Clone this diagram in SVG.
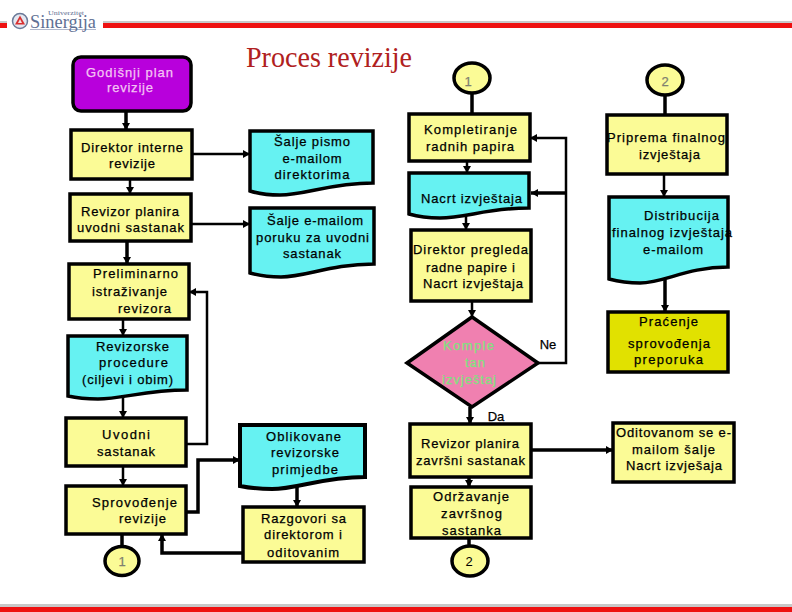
<svg xmlns="http://www.w3.org/2000/svg" width="792" height="612" viewBox="0 0 792 612">
<style>
.y{fill:#fbfb96;stroke:#000;stroke-width:3.5}
.c{fill:#66f2f2;stroke:#000;stroke-width:3.5}
.t{font-family:"Liberation Sans",Arial,sans-serif;font-size:13px;fill:#000;text-anchor:middle;stroke:#000;stroke-width:.25}
.l{fill:none;stroke:#000;stroke-width:2.5}
.k{fill:none;stroke:#000;stroke-width:3.5}
</style>
<defs>
<marker id="a" markerUnits="userSpaceOnUse" markerWidth="8" markerHeight="8" refX="7" refY="4" orient="auto"><path d="M0 0L7 4L0 8Z" fill="#000"/></marker>
</defs>
<rect width="792" height="612" fill="#fff"/>
<g id="frame">
<rect x="0" y="21" width="7" height="2" fill="#c8c8c8"/><rect x="103" y="21" width="689" height="2" fill="#c8c8c8"/>
<rect x="0" y="23" width="7" height="5" fill="#ee1111"/><rect x="103" y="23" width="689" height="5" fill="#ee1111"/>
<rect x="0" y="604" width="792" height="3" fill="#c8c8c8"/><rect x="0" y="607" width="792" height="5" fill="#ee1111"/>
</g>
<g id="logo">
<circle cx="20" cy="21" r="7.500" fill="#e4e7f0" stroke="#6a7a98" stroke-width="1.500"/>
<path d="M20 15.500L25 24.500H15Z" fill="#d83030"/><path d="M20 19L22 23H18Z" fill="#f4e0e0"/>
<rect x="30" y="29" width="66" height="1" fill="#b0b8cc"/>
<text x="30" y="27.500" font-family="Liberation Serif,serif" font-size="19" fill="#5f7094" textLength="66" lengthAdjust="spacingAndGlyphs">Sinergija</text>
<text x="48" y="15" font-family="Liberation Serif,serif" font-size="6" fill="#5f7094" textLength="36" lengthAdjust="spacingAndGlyphs">Univerzitet</text>
</g>
<text id="title" x="246" y="67" font-family="Liberation Serif,serif" font-size="29" fill="#b02020" textLength="166" lengthAdjust="spacingAndGlyphs">Proces revizije</text>

<g id="connectors">
<path class="k" d="M126 111V130" marker-end="url(#a)"/>
<path class="l" d="M130 179V194" marker-end="url(#a)"/>
<path class="l" d="M192 154H250" marker-end="url(#a)"/>
<path class="l" d="M191 224H250" marker-end="url(#a)"/>
<path class="k" d="M127 241V264" marker-end="url(#a)"/>
<path class="l" d="M123 319V336" marker-end="url(#a)"/>
<path class="l" d="M123 397V418" marker-end="url(#a)"/>
<path class="l" d="M123 466V486" marker-end="url(#a)"/>
<path class="k" d="M122 534V547"/>
<path class="l" d="M186 444H207V292H189" marker-end="url(#a)"/>
<path class="k" d="M186 512H198V460H240" marker-end="url(#a)"/>
<path class="k" d="M243 553H162V534" marker-end="url(#a)"/>
<path class="k" d="M297 487V507" marker-end="url(#a)"/>
<path class="k" d="M472 93V114"/>
<path class="l" d="M467 161V173" marker-end="url(#a)"/>
<path class="l" d="M466 215V230" marker-end="url(#a)"/>
<path class="l" d="M472 301V317" marker-end="url(#a)"/>
<path class="k" d="M470 407V424" marker-end="url(#a)"/>
<path class="k" d="M469 477V487" marker-end="url(#a)"/>
<path class="k" d="M469 538V547"/>
<path class="l" d="M538 363H566V138H530" marker-end="url(#a)"/>
<path class="k" d="M566 193H531" marker-end="url(#a)"/>
<path class="k" d="M665 95V115"/>
<path class="l" d="M664 174V197" marker-end="url(#a)"/>
<path class="k" d="M665 280V312" marker-end="url(#a)"/>
<path class="k" d="M531 450H613" marker-end="url(#a)"/>
</g>

<g id="godisnji"><rect x="73" y="57" width="118" height="54" rx="8" fill="#b800dc" stroke="#000" stroke-width="3.5"/>
<text class="t" style="fill:#f4c4f4;stroke:#f4c4f4" x="129.500" y="77" textLength="87">Godišnji plan</text><text class="t" style="fill:#f4c4f4;stroke:#f4c4f4" x="130" y="92" textLength="46">revizije</text></g>
<g id="direktor"><rect class="y" x="71" y="130" width="121" height="49"/>
<text class="t" x="132" y="152" textLength="102">Direktor interne</text><text class="t" x="132" y="168" textLength="46">revizije</text></g>
<g id="salje-pismo"><path class="c" d="M250 131H373V183C330 183 305 195 280 195Q263 195 250 191Z"/>
<text class="t" x="312" y="146" textLength="76">Šalje pismo</text><text class="t" x="312" y="163" textLength="59">e-mailom</text><text class="t" x="312" y="179" textLength="75">direktorima</text></g>
<g id="revizor-planira"><rect class="y" x="70" y="194" width="121" height="47"/>
<text class="t" x="130" y="216" textLength="98">Revizor planira</text><text class="t" x="130.500" y="232" textLength="107">uvodni sastanak</text></g>
<g id="salje-email"><path class="c" d="M250 208H374V264C331 264 306 277 281 277Q264 277 250 273Z"/>
<text class="t" x="315" y="225" textLength="96">Šalje e-mailom</text><text class="t" x="312.500" y="242" textLength="113">poruku za uvodni</text><text class="t" x="312" y="258" textLength="58">sastanak</text></g>
<g id="preliminarno"><rect class="y" x="69" y="264" width="120" height="55"/>
<text class="t" x="135.500" y="278" textLength="85">Preliminarno</text><text class="t" x="129.500" y="296" textLength="75">istraživanje</text><text class="t" x="144.500" y="313" textLength="53">revizora</text></g>
<g id="revizorske"><path class="c" d="M68 336H187V390C146 390 122 399 98 399Q81 399 68 396Z"/>
<text class="t" x="132.500" y="351" textLength="73">Revizorske</text><text class="t" x="133.500" y="367" textLength="69">procedure</text><text class="t" x="127.500" y="384" textLength="91">(ciljevi i obim)</text></g>
<g id="uvodni"><rect class="y" x="66" y="418" width="120" height="48"/>
<text class="t" x="126" y="439" textLength="48">Uvodni</text><text class="t" x="126" y="456" textLength="58">sastanak</text></g>
<g id="sprovodjenje"><rect class="y" x="66" y="486" width="120" height="48"/>
<text class="t" x="134.500" y="507" textLength="85">Sprovođenje</text><text class="t" x="142.500" y="523" textLength="47">revizije</text></g>
<g id="conn-1a"><ellipse class="y" cx="122" cy="561" rx="17" ry="14.500"/>
<text class="t" style="fill:#808070;stroke:#808070" x="122" y="566">1</text></g>
<g id="oblikovane"><path class="c" style="stroke-width:4" d="M240 425H365V477C322 477 297 489 272 489Q255 489 240 486Z"/>
<text class="t" x="303.500" y="441" textLength="75">Oblikovane</text><text class="t" x="305" y="457" textLength="68">revizorske</text><text class="t" x="305" y="474" textLength="66">primjedbe</text></g>
<g id="razgovori"><rect class="y" x="243" y="507" width="121" height="55"/>
<text class="t" x="303.500" y="523" textLength="85">Razgovori sa</text><text class="t" x="303" y="539" textLength="78">direktorom i</text><text class="t" x="303" y="557" textLength="72">oditovanim</text></g>

<g id="conn-1b"><ellipse class="y" cx="472" cy="78" rx="18" ry="15"/>
<text class="t" style="fill:#808070;stroke:#808070" x="468" y="86">1</text></g>
<g id="conn-2a"><ellipse class="y" cx="665" cy="80" rx="18" ry="15"/>
<text class="t" style="fill:#808070;stroke:#808070" x="665" y="86">2</text></g>
<g id="kompletiranje"><rect class="y" x="409" y="114" width="121" height="47"/>
<text class="t" x="470.500" y="134" textLength="93">Kompletiranje</text><text class="t" x="470" y="151" textLength="88">radnih papira</text></g>
<g id="priprema"><rect class="y" x="607" y="115" width="120" height="59"/>
<text class="t" x="666" y="142" textLength="118">Priprema finalnog</text><text class="t" x="669.500" y="159" textLength="61">izvještaja</text></g>
<g id="nacrt"><path class="c" d="M409 173H529V208C488 208 465 218 440 218Q423 218 409 214Z"/>
<text class="t" x="471.500" y="203" textLength="101">Nacrt izvještaja</text></g>
<g id="distribucija"><path class="c" d="M609 197H728V267C687 267 664 283 640 283Q624 283 609 279Z"/>
<text class="t" x="681.500" y="220" textLength="75">Distribucija</text><text class="t" x="672" y="237" textLength="120">finalnog izvještaja</text><text class="t" x="673" y="254" textLength="60">e-mailom</text></g>
<g id="direktor-pregleda"><rect class="y" x="411" y="230" width="120" height="71"/>
<text class="t" x="470.500" y="254" textLength="115">Direktor pregleda</text><text class="t" x="470.500" y="272" textLength="89">radne papire i</text><text class="t" x="473" y="288" textLength="100">Nacrt izvještaja</text></g>
<g id="kompletan"><path d="M407 363L472 317L538 363L472 407Z" fill="#f080b0" stroke="#000" stroke-width="3.500"/>
<text class="t" style="fill:#80e080;stroke:#80e080" x="468.500" y="350" textLength="51">Komple</text><text class="t" style="fill:#80e080;stroke:#80e080" x="475" y="367" textLength="20">tan</text><text class="t" style="fill:#80e080;stroke:#80e080" x="469" y="384" textLength="54">izvještaj</text></g>
<text id="ne" class="t" x="548" y="349">Ne</text>
<text id="da" class="t" x="496" y="421">Da</text>
<g id="pracenje"><rect x="608" y="312" width="120" height="60" fill="#e1e100" stroke="#000" stroke-width="3.500"/>
<text class="t" x="668.500" y="326" textLength="59">Praćenje</text><text class="t" x="669" y="348" textLength="82">sprovođenja</text><text class="t" x="668.500" y="364" textLength="69">preporuka</text></g>
<g id="oditovanom"><rect class="y" x="613" y="423" width="121" height="59"/>
<text class="t" x="673.500" y="437" textLength="115">Oditovanom se e-</text><text class="t" x="673.500" y="454" textLength="83">mailom šalje</text><text class="t" x="674" y="470" textLength="96">Nacrt izvješaja</text></g>
<g id="revizor-zavrsni"><rect class="y" x="410" y="424" width="121" height="53"/>
<text class="t" x="470" y="448" textLength="98">Revizor planira</text><text class="t" x="470.500" y="465" textLength="109">završni sastanak</text></g>
<g id="odrzavanje"><rect class="y" x="411" y="487" width="120" height="51"/>
<text class="t" x="471" y="501" textLength="76">Održavanje</text><text class="t" x="471.500" y="518" textLength="61">završnog</text><text class="t" x="471.500" y="535" textLength="59">sastanka</text></g>
<g id="conn-2b"><ellipse class="y" cx="470" cy="561" rx="18" ry="15"/>
<text class="t" style="stroke-width:0" x="469" y="566">2</text></g>
</svg>
